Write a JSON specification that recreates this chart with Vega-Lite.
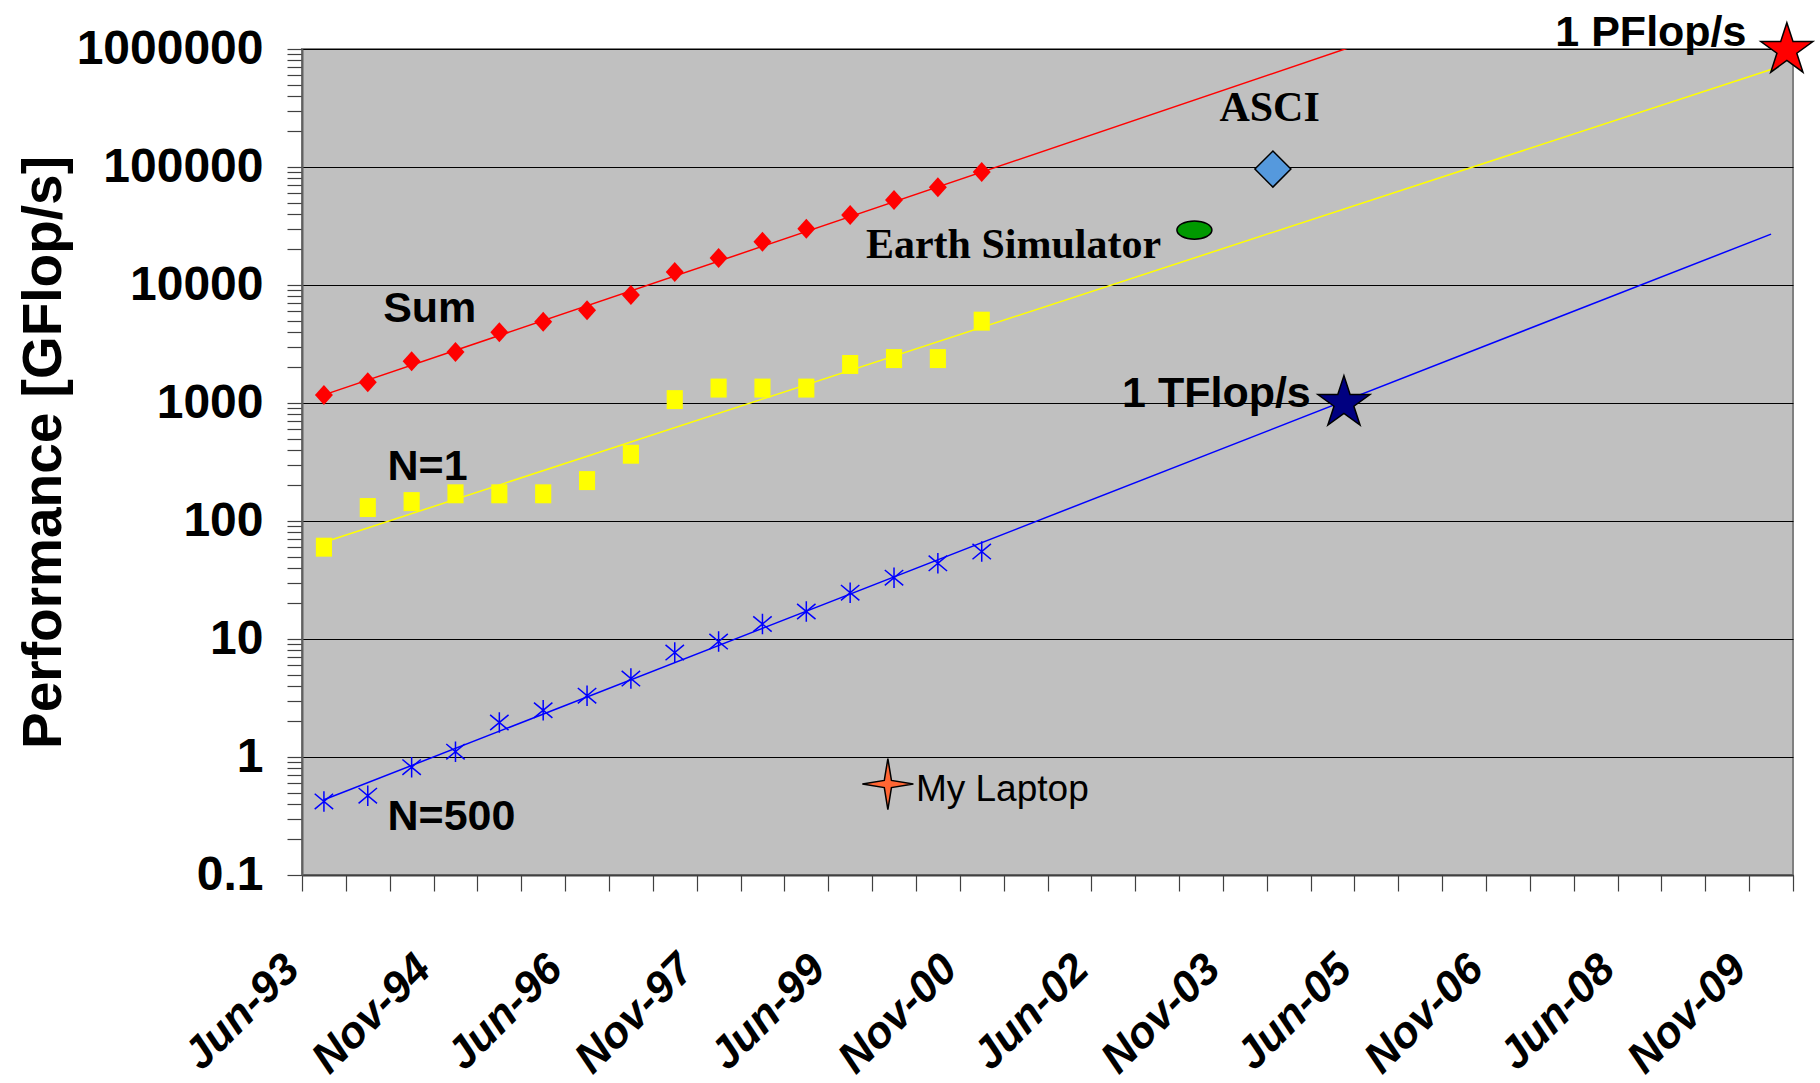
{
  "$schema": "https://vega.github.io/schema/vega-lite/v6.json",
  "width": 1491,
  "height": 826,
  "autosize": {"type": "none"},
  "padding": {"left": 302, "top": 49, "right": 27, "bottom": 208},
  "background": "white",
  "config": {"view": {"fill": "#C0C0C0", "stroke": "#808080", "strokeWidth": 2}},
  "datasets": {
    "top500": [
      {"period": "Jun-93", "t": 0, "sum": 1170, "n1": 60, "n500": 0.42},
      {"period": "Nov-93", "t": 1, "sum": 1500, "n1": 130, "n500": 0.47},
      {"period": "Jun-94", "t": 2, "sum": 2260, "n1": 146, "n500": 0.82},
      {"period": "Nov-94", "t": 3, "sum": 2710, "n1": 170, "n500": 1.11},
      {"period": "Jun-95", "t": 4, "sum": 3980, "n1": 170, "n500": 1.96},
      {"period": "Nov-95", "t": 5, "sum": 4880, "n1": 170, "n500": 2.49},
      {"period": "Jun-96", "t": 6, "sum": 6120, "n1": 220, "n500": 3.31},
      {"period": "Nov-96", "t": 7, "sum": 8210, "n1": 368, "n500": 4.62},
      {"period": "Jun-97", "t": 8, "sum": 12900, "n1": 1068, "n500": 7.67},
      {"period": "Nov-97", "t": 9, "sum": 16950, "n1": 1338, "n500": 9.51},
      {"period": "Jun-98", "t": 10, "sum": 23300, "n1": 1338, "n500": 13.4},
      {"period": "Nov-98", "t": 11, "sum": 29900, "n1": 1338, "n500": 17.1},
      {"period": "Jun-99", "t": 12, "sum": 39200, "n1": 2121, "n500": 24.7},
      {"period": "Nov-99", "t": 13, "sum": 52600, "n1": 2379, "n500": 33.1},
      {"period": "Jun-00", "t": 14, "sum": 67500, "n1": 2379, "n500": 43.8},
      {"period": "Nov-00", "t": 15, "sum": 90600, "n1": 4938, "n500": 55.1}
    ],
    "fits": [
      {"series": "Sum", "t": 0, "v": 1172},
      {"series": "Sum", "t": 33, "v": 16700000},
      {"series": "N=1", "t": 0, "v": 66},
      {"series": "N=1", "t": 33, "v": 670000},
      {"series": "N=500", "t": 0, "v": 0.434},
      {"series": "N=500", "t": 33, "v": 27000}
    ],
    "sansLabels": [
      {"label": "Sum", "t": 1.35, "v": 4850},
      {"label": "N=1", "t": 1.45, "v": 222},
      {"label": "N=500", "t": 1.45, "v": 0.24},
      {"label": "1 TFlop/s", "t": 18.2, "v": 925},
      {"label": "1 PFlop/s", "t": 28.08, "v": 1060000}
    ],
    "serifLabels": [
      {"label": "Earth Simulator", "t": 12.36, "v": 16900},
      {"label": "ASCI", "t": 20.42, "v": 245000}
    ],
    "plainLabels": [
      {"label": "My Laptop", "t": 13.5, "v": 0.42}
    ]
  },
  "encoding": {
    "x": {
      "field": "t",
      "type": "quantitative",
      "scale": {"domain": [-0.5, 33.5], "nice": false, "zero": false},
      "axis": {
        "title": null,
        "values": [-0.5, 0.5, 1.5, 2.5, 3.5, 4.5, 5.5, 6.5, 7.5, 8.5, 9.5, 10.5, 11.5, 12.5, 13.5, 14.5, 15.5, 16.5, 17.5, 18.5, 19.5, 20.5, 21.5, 22.5, 23.5, 24.5, 25.5, 26.5, 27.5, 28.5, 29.5, 30.5, 31.5, 32.5, 33.5],
        "grid": false,
        "domainColor": "#404040",
        "domainWidth": 2,
        "tickColor": "#404040",
        "tickWidth": 1.2,
        "tickSize": 16,
        "labelExpr": "(datum.value + 0.5) % 3 == 0 && datum.value < 33.6 ? ['Jun-93','Nov-94','Jun-96','Nov-97','Jun-99','Nov-00','Jun-02','Nov-03','Jun-05','Nov-06','Jun-08','Nov-09'][(datum.value + 0.5) / 3] : ''",
        "labelAngle": -45,
        "labelAlign": "right",
        "labelBaseline": "middle",
        "labelFont": "Liberation Sans",
        "labelFontWeight": "bold",
        "labelFontStyle": "italic",
        "labelFontSize": 44,
        "labelColor": "black",
        "labelPadding": 71,
        "labelOffset": -10,
        "labelLimit": 0,
        "labelOverlap": false,
        "labelBound": false,
        "labelFlush": false
      }
    },
    "y": {
      "field": "v",
      "type": "quantitative",
      "scale": {"type": "log", "domain": [0.1, 1000000], "nice": false},
      "axis": {
        "values": [0.1, 0.2, 0.3, 0.4, 0.5, 0.6, 0.7, 0.8, 0.9, 1, 2, 3, 4, 5, 6, 7, 8, 9, 10, 20, 30, 40, 50, 60, 70, 80, 90, 100, 200, 300, 400, 500, 600, 700, 800, 900, 1000, 2000, 3000, 4000, 5000, 6000, 7000, 8000, 9000, 10000, 20000, 30000, 40000, 50000, 60000, 70000, 80000, 90000, 100000, 200000, 300000, 400000, 500000, 600000, 700000, 800000, 900000, 1000000],
        "grid": true,
        "gridColor": "black",
        "gridWidth": 1,
        "gridOpacity": {"condition": {"test": "indexof([0.1,1,10,100,1000,10000,100000,1000000], datum.value) >= 0", "value": 1}, "value": 0},
        "domainColor": "#606060",
        "domainWidth": 2,
        "tickColor": "#404040",
        "tickWidth": 1.2,
        "tickSize": 15,
        "labelExpr": "indexof([0.1,1,10,100,1000,10000,100000,1000000], datum.value) >= 0 ? '' + datum.value : ''",
        "labelFont": "Liberation Sans",
        "labelFontWeight": "bold",
        "labelFontSize": 48,
        "labelColor": "black",
        "labelPadding": 24,
        "labelLimit": 0,
        "labelOverlap": false,
        "labelBound": false,
        "labelFlush": false,
        "title": "Performance [GFlop/s]",
        "titleFont": "Liberation Sans",
        "titleFontWeight": "bold",
        "titleFontSize": 55,
        "titleColor": "black",
        "titleAngle": 270,
        "titleAlign": "center",
        "titleBaseline": "alphabetic",
        "titleX": -242,
        "titleY": 403
      }
    }
  },
  "layer": [
    {
      "data": {"name": "fits"},
      "mark": {"type": "line", "strokeWidth": 1.5, "clip": true},
      "encoding": {
        "color": {"field": "series", "type": "nominal", "scale": {"domain": ["Sum", "N=1", "N=500"], "range": ["#FF0000", "#FFFF00", "#0000FF"]}, "legend": null},
        "detail": {"field": "series"}
      }
    },
    {
      "data": {"name": "top500"},
      "transform": [{"fold": ["sum", "n1", "n500"], "as": ["series", "v"]}, {"filter": "datum.series === 'sum'"}],
      "mark": {"type": "point", "shape": "M0,-1L0.9,0L0,1L-0.9,0Z", "size": 400, "filled": true, "fill": "#FF0000", "strokeWidth": 0, "opacity": 1}
    },
    {
      "data": {"name": "top500"},
      "transform": [{"fold": ["sum", "n1", "n500"], "as": ["series", "v"]}, {"filter": "datum.series === 'n1'"}],
      "mark": {"type": "point", "shape": "M-0.85,-1L0.85,-1L0.85,1L-0.85,1Z", "size": 360, "filled": true, "fill": "#FFFF00", "strokeWidth": 0, "opacity": 1}
    },
    {
      "data": {"name": "top500"},
      "transform": [{"fold": ["sum", "n1", "n500"], "as": ["series", "v"]}, {"filter": "datum.series === 'n500'"}],
      "mark": {"type": "point", "shape": "M0,-1L0,1M-0.9,-0.75L0.9,0.75M-0.9,0.75L0.9,-0.75", "size": 420, "filled": false, "stroke": "#0000FF", "strokeWidth": 1.5, "opacity": 1}
    },
    {
      "data": {"values": [{"name": "ASCI", "t": 21.64, "v": 96000}]},
      "mark": {"type": "point", "shape": "M0,-1L1,0L0,1L-1,0Z", "size": 1296, "filled": true, "fill": "#5599DD", "stroke": "black", "strokeWidth": 1.5, "opacity": 1}
    },
    {
      "data": {"values": [{"name": "Earth Simulator", "t": 19.85, "v": 29200}]},
      "mark": {"type": "point", "shape": "M-1,0A1,0.52 0 1,1 1,0A1,0.52 0 1,1 -1,0Z", "size": 1225, "filled": true, "fill": "#009900", "stroke": "black", "strokeWidth": 1.5, "opacity": 1}
    },
    {
      "data": {"values": [{"name": "1 TFlop/s", "t": 23.26, "v": 1000}]},
      "mark": {"type": "point", "shape": "M0,-1L0.2245,-0.309L0.951,-0.309L0.363,0.118L0.588,0.809L0,0.382L-0.588,0.809L-0.363,0.118L-0.951,-0.309L-0.2245,-0.309Z", "size": 3000, "filled": true, "fill": "#000080", "stroke": "black", "strokeWidth": 1.5, "opacity": 1}
    },
    {
      "data": {"values": [{"name": "1 PFlop/s", "t": 33.36, "v": 980000}]},
      "mark": {"type": "point", "shape": "M0,-1L0.2245,-0.309L0.951,-0.309L0.363,0.118L0.588,0.809L0,0.382L-0.588,0.809L-0.363,0.118L-0.951,-0.309L-0.2245,-0.309Z", "size": 3000, "filled": true, "fill": "#FF0000", "stroke": "black", "strokeWidth": 1.5, "opacity": 1}
    },
    {
      "data": {"values": [{"name": "My Laptop", "t": 12.86, "v": 0.59}]},
      "mark": {"type": "point", "shape": "M0,-1L0.14,-0.14L1,0L0.14,0.14L0,1L-0.14,0.14L-1,0L-0.14,-0.14Z", "size": 2600, "filled": true, "fill": "#FF6633", "stroke": "black", "strokeWidth": 1.5, "opacity": 1}
    },
    {
      "data": {"name": "sansLabels"},
      "mark": {"type": "text", "align": "left", "baseline": "alphabetic", "font": "Liberation Sans", "fontWeight": "bold", "fontSize": 43, "fill": "black"},
      "encoding": {"text": {"field": "label"}}
    },
    {
      "data": {"name": "serifLabels"},
      "mark": {"type": "text", "align": "left", "baseline": "alphabetic", "font": "Liberation Serif", "fontWeight": "bold", "fontSize": 42, "fill": "black"},
      "encoding": {"text": {"field": "label"}}
    },
    {
      "data": {"name": "plainLabels"},
      "mark": {"type": "text", "align": "left", "baseline": "alphabetic", "font": "Liberation Sans", "fontWeight": "normal", "fontSize": 37, "fill": "black"},
      "encoding": {"text": {"field": "label"}}
    }
  ]
}
